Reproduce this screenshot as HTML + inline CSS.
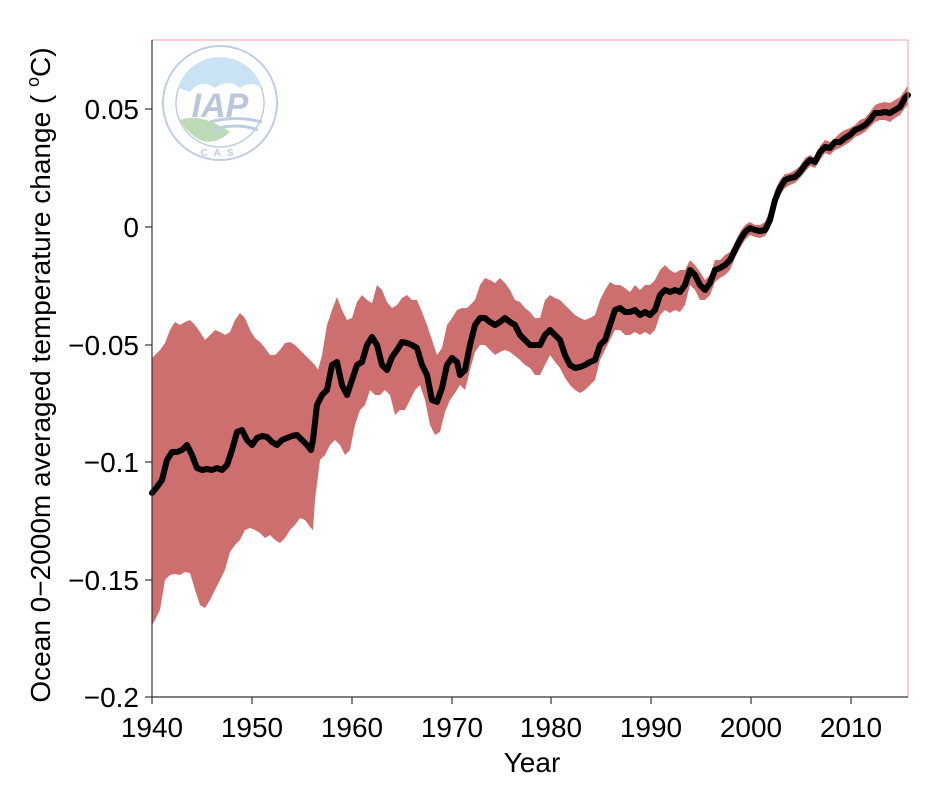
<!DOCTYPE html>
<html><head><meta charset="utf-8"><style>
body{margin:0;background:#fff}
svg{display:block;font-family:"Liberation Sans",Arial,sans-serif}
</style></head><body>
<svg width="926" height="785" viewBox="0 0 926 785">
<rect width="926" height="785" fill="#fff"/>
<!-- logo -->
<g opacity="0.9">
<circle cx="220" cy="103" r="57" fill="#fff" stroke="#b8c8e0" stroke-width="2"/>
<circle cx="220" cy="103" r="44" fill="#fff" stroke="#b8c8e0" stroke-width="1.5"/>
<path d="M178,88 A44,44 0 0 1 262,88 Q250,80 240,88 Q228,78 215,88 Q200,78 190,92 Z" fill="#c4e0f4"/>
<path d="M180,120 Q200,112 230,132 Q215,146 200,140 Q186,132 180,120Z" fill="#b6d8b0"/>
<path d="M210,122 Q235,115 262,122 M212,130 Q236,122 258,130" stroke="#b8c8e0" stroke-width="3" fill="none"/>
<text x="220" y="117" text-anchor="middle" font-size="34" font-weight="bold" font-style="italic" fill="#b4c0d8">IAP</text>
<text x="220" y="156" text-anchor="middle" font-size="10" font-weight="bold" fill="#b8c8e0" letter-spacing="6">CAS</text>
</g>
<!-- band -->
<path fill="#cd6f6e" d="M152,358 L155,355 L160,350 L165,343 L170,330 L175,322 L180,325 L185,322 L190,320 L195,325 L200,332 L205,340 L210,335 L215,330 L220,332 L225,335 L230,332 L235,320 L240,313 L245,318 L250,330 L255,338 L260,342 L265,348 L270,355 L275,355 L280,350 L285,343 L290,342 L295,345 L300,350 L305,355 L310,360 L315,365 L318,370 L322,355 L327,325 L332,310 L337,297 L342,310 L347,320 L352,318 L357,302 L362,295 L367,300 L372,303 L377,285 L382,290 L387,302 L392,308 L397,305 L402,298 L407,295 L412,300 L417,300 L422,312 L427,325 L432,340 L437,355 L442,348 L447,325 L452,318 L457,310 L462,308 L467,308 L470,305 L475,300 L480,285 L485,278 L490,280 L495,283 L500,278 L505,283 L510,290 L515,300 L520,302 L525,308 L530,312 L535,318 L540,318 L545,300 L550,295 L555,298 L560,300 L565,305 L570,310 L575,315 L580,318 L585,320 L590,318 L595,315 L600,300 L605,290 L610,282 L615,285 L620,285 L625,288 L630,292 L635,285 L640,290 L645,285 L650,285 L655,280 L660,270 L665,265 L670,270 L675,273 L680,270 L685,270 L690,260 L695,265 L700,272 L705,280 L710,275 L715,260 L720,260 L725,255 L730,252 L735,242 L740,232 L745,225 L750,222 L755,225 L760,225 L765,222 L770,210 L775,190 L780,180 L785,174 L790,173 L795,170 L800,166 L805,158 L810,155 L815,158 L820,146 L825,140 L830,142 L835,138 L840,133 L845,130 L850,128 L855,125 L860,120 L865,118 L870,112 L875,105 L880,103 L885,102 L890,103 L895,100 L900,97 L905,90 L908,85
L908,105 L905,108 L900,115 L895,118 L890,122 L885,120 L880,120 L875,122 L870,127 L865,132 L860,135 L855,137 L850,142 L845,145 L840,148 L835,150 L830,155 L825,153 L820,160 L815,168 L810,166 L805,172 L800,178 L795,183 L790,185 L785,188 L780,195 L775,210 L770,228 L765,236 L760,238 L755,237 L750,235 L745,240 L740,248 L735,258 L730,270 L725,275 L720,278 L715,282 L710,295 L705,300 L700,300 L695,290 L690,285 L685,305 L680,312 L675,310 L670,313 L665,310 L660,315 L655,330 L650,335 L645,332 L640,335 L635,332 L630,335 L625,335 L620,330 L615,330 L610,340 L605,350 L600,360 L595,380 L590,385 L585,390 L580,393 L575,390 L570,385 L565,378 L560,368 L555,362 L550,355 L545,365 L540,375 L535,375 L530,368 L525,365 L520,360 L515,356 L510,352 L505,350 L500,352 L495,355 L490,350 L485,345 L480,345 L475,352 L470,370 L465,390 L460,385 L455,393 L450,400 L445,412 L440,432 L435,435 L430,425 L425,400 L420,385 L415,390 L410,400 L405,410 L400,410 L395,415 L390,395 L385,390 L380,395 L375,395 L370,390 L365,405 L360,410 L355,425 L350,450 L345,455 L340,445 L335,440 L330,445 L325,455 L320,460 L315,500 L313,530 L310,527 L305,520 L300,518 L295,525 L290,530 L285,538 L280,543 L275,540 L270,535 L265,538 L260,533 L255,530 L250,528 L245,530 L240,540 L235,545 L230,552 L225,570 L220,580 L215,590 L210,600 L205,608 L200,605 L195,590 L190,573 L185,572 L180,575 L175,574 L170,575 L165,580 L160,610 L155,620 L152,625 Z"/>
<!-- mean -->
<polyline fill="none" stroke="#000" stroke-width="6" stroke-linejoin="round" stroke-linecap="round" points="152,493 157,487 162,480 167,460 172,452 177,452 182,450 187,445 192,455 197,468 202,470 207,469 212,470 217,468 222,470 227,465 232,450 237,432 242,430 247,440 252,445 257,438 262,436 267,437 272,442 277,445 282,440 287,438 292,436 297,435 302,440 307,445 311,450 313,440 317,405 322,395 327,390 332,365 337,362 342,385 347,395 352,380 357,365 362,362 367,345 372,337 377,345 382,365 387,370 392,357 397,350 402,342 407,343 412,345 417,348 422,365 427,375 432,400 437,402 442,388 447,365 452,358 457,362 460,375 465,370 470,345 475,325 480,318 485,318 490,322 495,325 500,322 505,318 510,322 515,325 520,335 525,340 530,345 535,345 540,345 545,335 550,330 555,335 560,340 565,355 570,365 575,368 580,367 585,365 590,362 595,360 600,345 605,340 610,325 615,310 620,308 625,312 630,312 635,310 640,315 645,312 650,315 655,310 660,295 665,290 670,292 675,290 680,292 685,285 690,270 695,275 700,285 705,290 710,283 715,270 720,268 725,265 730,260 735,250 740,240 745,232 750,228 755,230 760,231 765,230 770,220 775,200 780,188 785,180 790,178 795,177 800,172 805,165 810,160 815,162 820,152 825,147 830,148 835,142 840,142 845,138 850,135 855,130 860,128 865,125 870,120 875,113 880,113 885,112 890,113 895,110 900,107 905,98 908,95"/>
<!-- frame -->
<line x1="152" y1="40" x2="908" y2="40" stroke="#f0a0a0" stroke-width="1"/>
<line x1="908" y1="40" x2="908" y2="697" stroke="#f0a0a0" stroke-width="1"/>
<line x1="152" y1="40" x2="152" y2="697" stroke="#333" stroke-width="1.2"/>
<line x1="152" y1="697" x2="908" y2="697" stroke="#333" stroke-width="1.2"/>
<g stroke="#333" stroke-width="1.2">
<line x1="145" y1="109" x2="152" y2="109"/><line x1="145" y1="227" x2="152" y2="227"/><line x1="145" y1="345" x2="152" y2="345"/><line x1="145" y1="462" x2="152" y2="462"/><line x1="145" y1="580" x2="152" y2="580"/><line x1="145" y1="697" x2="152" y2="697"/>
<line x1="152" y1="697" x2="152" y2="704"/><line x1="252" y1="697" x2="252" y2="704"/><line x1="352" y1="697" x2="352" y2="704"/><line x1="452" y1="697" x2="452" y2="704"/><line x1="551" y1="697" x2="551" y2="704"/><line x1="651" y1="697" x2="651" y2="704"/><line x1="751" y1="697" x2="751" y2="704"/><line x1="851" y1="697" x2="851" y2="704"/>
</g>
<g font-size="28" fill="#000" text-anchor="end">
<text x="139" y="119">0.05</text><text x="139" y="237">0</text><text x="139" y="355">−0.05</text><text x="139" y="472">−0.1</text><text x="139" y="590">−0.15</text><text x="139" y="707">−0.2</text>
</g>
<g font-size="28" fill="#000" text-anchor="middle">
<text x="152" y="737">1940</text><text x="252" y="737">1950</text><text x="352" y="737">1960</text><text x="452" y="737">1970</text><text x="551" y="737">1980</text><text x="651" y="737">1990</text><text x="751" y="737">2000</text><text x="851" y="737">2010</text>
<text x="532" y="772">Year</text>
</g>
<text transform="translate(50,375) rotate(-90)" font-size="28" text-anchor="middle" fill="#000">Ocean 0−2000m averaged temperature change ( <tspan font-size="18" dy="-11">o</tspan><tspan dy="11">C)</tspan></text>
</svg>
</body></html>
